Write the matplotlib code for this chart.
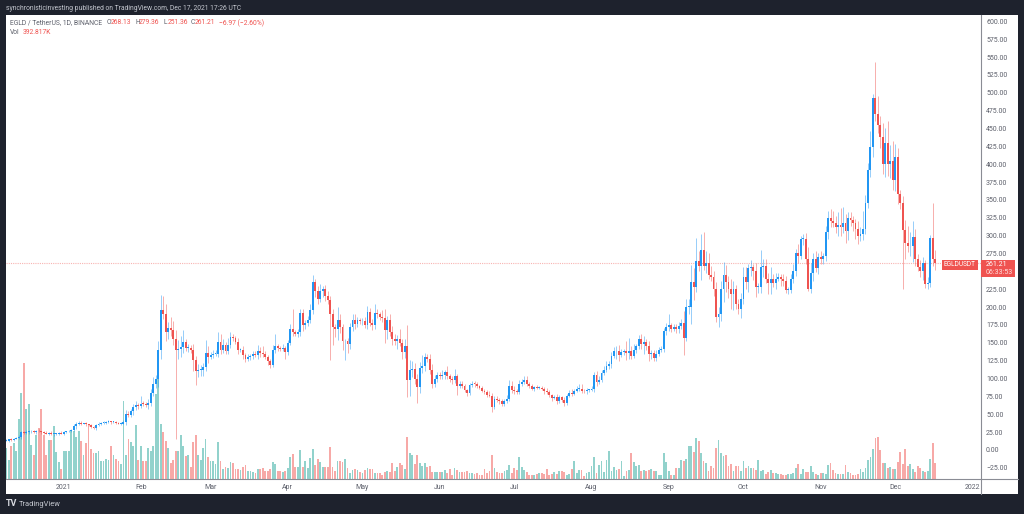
import matplotlib
matplotlib.use("Agg")
import matplotlib.pyplot as plt
from matplotlib.patches import Rectangle

plt.rcParams['font.family'] = ['Roboto', 'DejaVu Sans']

closes = [
 13,15,14,16,17,18,25,24,25,26,
 26.5,25,27,26,25,24,23,24,22,22,
 23,24,23,25,26,27,28,33,37,38,
 37,37,36,35.5,32,31,35,37,38,38,
 39,40,39,39,38,37,37,39,50,49,
 54,60,63,62,65,64,63,66,80,93,
 100,140,196,190,165,171,168,155,140,142,
 144,151,143,143,140,126,110,112,112,116,
 136,130,133,134,135,151,140,147,139,147,
 158,157,151,140,140,133,127,130,132,134,
 133,138,136,134,130,124,119,140,145,143,
 141,143,137,150,170,165,163,165,192,175,
 178,182,196,235,222,212,222,225,215,210,
 190,172,170,182,172,152,152,148,172,182,
 176,182,180,181,175,193,178,175,192,190,
 186,185,168,182,165,155,152,156,150,137,
 145,98,112,113,100,88,115,117,130,128,
 112,92,100,105,103,105,109,103,100,98,
 103,90,93,90,84,80,91,93,92,89,
 87,83,81,77,76,60,72,70,68,64,
 68,72,90,84,82,81,93,95,98,92,
 90,86,88,87,87,86,82,81,77,73,
 74,68,74,70,66,76,80,79,83,85,
 86,83,82,84,84,85,105,95,98,108,
 112,118,120,132,138,139,133,137,138,136,
 139,132,140,145,156,148,151,146,134,136,
 129,135,140,141,166,172,175,170,172,169,
 173,178,157,200,200,235,228,265,258,280,
 258,262,245,242,225,186,190,225,245,235,
 225,218,225,205,197,212,242,235,255,256,
 250,228,228,256,258,240,234,240,234,240,
 242,240,236,224,224,240,250,276,272,295,
 296,268,226,248,268,255,270,268,272,305,
 325,320,318,312,315,312,318,306,325,322,
 318,310,300,302,310,345,392,424,492,470,
 455,438,400,430,400,405,378,410,358,345,
 308,290,285,285,298,268,256,250,262,232,
 234,297,268,261.21]

upper_wicks = [
 2,1,2,1,1,3,2,1,3,2,
 1,2,1,2,1,1,2,1,2,1,
 1,1,2,1,1,1,1,4,2,2,
 3,1,2,1,1,2,1,2,1,2,
 1,2,1,1,2,1,2,3,6,4,
 4,5,5,3,10,4,3,5,6,9,
 5,12,21,19,14,8,15,12,13,12,
 16,17,5,6,4,8,6,9,7,6,
 18,9,4,6,5,14,11,8,4,10,
 7,4,3,6,3,5,3,5,3,4,
 4,9,6,9,4,3,3,7,17,4,
 3,5,2,4,6,28,3,4,6,6,
 4,6,9,10,4,8,11,4,6,7,
 6,7,5,18,8,5,4,5,6,9,
 8,4,3,4,5,8,6,5,13,6,
 3,10,12,6,8,8,7,5,14,6,
 10,30,14,12,9,6,8,16,6,5,
 7,8,5,4,4,7,3,8,3,3,
 10,4,3,3,3,2,3,3,3,3,
 2,3,2,3,6,4,4,3,3,3,
 4,5,8,6,6,3,5,5,6,5,
 3,3,2,3,2,2,2,5,3,2,
 3,4,3,2,4,3,4,5,3,4,
 6,7,3,3,2,4,4,5,6,4,
 5,6,4,5,6,6,8,4,4,15,
 18,6,8,4,5,7,8,5,6,4,
 4,5,4,4,5,6,16,3,4,5,
 6,5,16,12,11,24,20,32,14,23,
 25,16,14,12,8,10,10,12,18,14,
 8,14,12,6,6,8,14,14,6,10,
 4,12,6,24,10,10,8,16,6,8,
 6,4,6,8,4,7,10,6,12,4,
 6,8,16,14,8,10,6,8,4,8,
 10,12,14,10,18,24,22,12,8,8,
 6,6,10,10,24,12,10,22,6,51,
 25,12,20,20,30,22,28,18,12,6,
 10,14,24,20,22,12,6,10,8,4,
 8,4,48,11.23]

lower_wicks = [
 1,2,1,2,1,2,3,2,1,2,
 2,1,3,1,2,2,1,2,1,2,
 1,2,1,2,1,1,2,1,3,2,
 2,1,3,2,1,2,3,1,2,1,
 2,1,2,1,2,1,2,1,4,3,
 3,5,4,4,3,3,3,5,5,5,
 6,12,12,6,12,10,9,8,125,12,
 12,8,5,6,4,16,19,8,9,8,
 5,8,3,4,3,5,6,4,5,5,
 4,5,3,5,3,6,4,3,4,4,
 3,6,6,4,3,5,4,3,4,4,
 3,3,9,4,3,6,4,5,6,8,
 6,5,4,5,8,7,5,8,6,5,
 64,25,12,16,8,12,26,12,6,6,
 7,4,4,5,4,6,5,7,6,5,
 4,6,18,12,6,8,5,10,5,9,
 8,24,22,10,8,22,8,7,6,5,
 6,5,4,5,3,4,5,3,5,5,
 4,13,3,3,3,5,3,3,4,2,
 2,2,3,3,2,7,3,3,4,3,
 3,2,3,4,4,2,3,3,3,3,
 3,2,3,2,2,2,3,2,3,4,
 2,3,2,3,4,3,2,3,2,2,
 2,3,2,3,3,2,4,6,3,3,
 3,3,4,5,3,10,8,3,4,10,
 9,5,3,4,4,7,14,6,9,6,
 5,5,3,3,4,5,6,5,4,5,
 5,4,24,4,10,24,18,7,7,20,
 6,10,5,5,10,7,14,10,18,14,
 12,20,22,7,6,12,8,10,14,12,
 12,14,8,8,14,6,16,16,6,8,
 4,10,6,4,6,4,6,6,10,4,
 8,8,3,6,12,6,8,8,8,8,
 10,8,6,8,12,12,8,16,12,8,
 12,14,12,8,8,8,6,10,14,10,
 12,16,14,18,16,20,14,16,14,8,
 83,22,8,14,22,10,6,8,12,5,
 6,6,10,9.85]

volumes = [
 31,19,33,36,28,60,86,116,70,75,
 34,24,44,51,70,44,24,39,39,53,
 27,17,10,28,28,28,49,48,42,48,
 38,24,36,54,30,26,26,28,18,18,
 20,19,33,24,20,18,15,78,24,40,
 37,33,54,19,33,18,18,31,28,33,
 85,107,55,47,38,31,16,19,28,28,
 44,33,23,24,12,37,44,24,19,31,
 40,22,18,18,15,37,18,10,12,11,
 17,16,10,10,9,12,14,8,8,7,
 6,10,10,11,8,8,10,17,15,8,
 8,7,8,11,22,25,12,12,29,12,
 18,11,21,30,14,20,17,12,12,12,
 32,12,8,18,18,17,20,11,6,9,
 10,9,7,6,9,11,10,10,6,6,
 6,4,7,8,7,16,8,12,16,14,
 10,42,26,24,15,24,16,13,16,12,
 13,7,7,7,7,7,9,6,10,4,
 11,9,7,7,7,8,6,6,5,6,
 4,4,10,6,8,24,11,7,6,6,
 8,9,14,6,11,9,22,12,9,7,
 4,4,4,5,6,6,5,10,4,5,
 7,5,8,8,7,4,5,10,18,6,
 9,9,3,6,7,13,22,6,14,18,
 7,19,28,8,12,9,10,18,3,8,
 9,26,17,13,14,8,9,8,9,10,
 8,8,4,4,26,17,8,4,4,11,
 11,19,18,20,33,33,27,41,38,26,
 18,16,8,13,11,31,39,26,23,24,
 13,15,8,13,13,8,18,11,13,11,
 11,9,19,8,9,5,7,9,6,6,
 5,5,4,4,5,5,6,11,15,5,
 10,7,7,13,7,5,4,6,6,5,
 14,16,9,6,5,5,5,14,7,6,
 4,4,5,10,7,11,19,22,30,41,
 42,29,16,16,11,12,10,10,17,27,
 15,30,13,15,10,7,13,11,8,7,
 8,20,36,16]

month_labels = ['2021','Feb','Mar','Apr','May','Jun','Jul','Aug','Sep','Oct','Nov','Dec','2022']
month_index = [23,54,82,113,143,174,204,235,266,296,327,357,388]
price_ticks = [-25,0,25,50,75,100,125,150,175,200,225,275,300,325,350,375,400,425,450,475,500,525,550,575,600]
last_price = 261.21

W, H = 1024, 514
BG = '#1e222d'
UP, DOWN = '#2196f3', '#ef5350'
VUP, VDOWN = '#92d2cc', '#f7a9a7'
TXT = '#5d606b'

def fx(px): return px / W
def fy(py): return 1 - py / H

fig = plt.figure(figsize=(W/100, H/100), dpi=100, facecolor=BG)
fig.add_artist(Rectangle((fx(6), fy(494)), fx(1018)-fx(6), (494-15)/H,
                         transform=fig.transFigure, fc='white', ec='none'))

rect = [fx(6), fy(479), fx(980.5)-fx(6), (479-15)/H]
n = len(closes)
opens = [closes[0]] + closes[:-1]
idx = list(range(n))
highs = [max(o, c) + u for o, c, u in zip(opens, closes, upper_wicks)]
lows = [min(o, c) - l for o, c, l in zip(opens, closes, lower_wicks)]
up = [c >= o for o, c in zip(opens, closes)]

xlim = ((6-6.4)/2.49, (980.5-6.4)/2.49)

axv = fig.add_axes(rect, zorder=1)
axv.set_xlim(*xlim); axv.set_ylim(0, 464); axv.axis('off')
axv.bar(idx, volumes, width=0.72, color=[VUP if u else VDOWN for u in up], linewidth=0)

ax = fig.add_axes(rect, zorder=2)
ax.patch.set_alpha(0)
ax.set_xlim(*xlim)
ax.set_ylim((450-479)/0.7145, (450-15)/0.7145)
ax.axhline(last_price, color='#f8b4b2', lw=0.8, ls=(0, (1, 1)), zorder=1)
ax.vlines(idx, lows, highs, colors=[UP if u else DOWN for u in up], lw=0.6, alpha=0.55, zorder=2)
ax.bar(idx, [max(abs(c-o), 1.2) for o, c in zip(opens, closes)], bottom=[min(o, c) for o, c in zip(opens, closes)],
       width=0.75, color=[UP if u else DOWN for u in up], linewidth=0, zorder=3)

for s in ('top', 'left'):
    ax.spines[s].set_visible(False)
ax.spines['right'].set_color('#8a8c94'); ax.spines['right'].set_linewidth(0.8)
ax.spines['bottom'].set_color('#8a8c94'); ax.spines['bottom'].set_linewidth(0.8)
ax.yaxis.tick_right()
ax.set_yticks(price_ticks)
ax.set_yticklabels([f'{v:.2f}'.replace('-', '\u2212') for v in price_ticks])
ax.set_xticks(month_index)
ax.set_xticklabels(month_labels)
ax.tick_params(axis='y', length=0, pad=4, labelsize=5.0, labelcolor=TXT)
ax.tick_params(axis='x', length=0, pad=3.5, labelsize=5.0, labelcolor=TXT)

# axis lines continuing past the plot
fig.add_artist(plt.Line2D([fx(980.5), fx(980.5)], [fy(479), fy(494)], color='#8a8c94', lw=0.8))
fig.add_artist(plt.Line2D([fx(980.5), fx(1018)], [fy(479), fy(479)], color='#8a8c94', lw=0.8))

def t(px, py, s, **kw):
    kw.setdefault('fontsize', 4.9)
    kw.setdefault('va', 'center')
    return fig.text(fx(px), fy(py), s, **kw)

t(6, 8, 'synchronisticinvesting published on TradingView.com, Dec 17, 2021 17:26 UTC', color='#c5c8d0', fontsize=4.9)
t(10, 23, 'EGLD / TetherUS, 1D, BINANCE', color=TXT)
for px, s, c in [(107, 'O', TXT), (111, '268.13', DOWN), (135, 'H', TXT), (139, '279.36', DOWN),
                 (164, 'L', TXT), (167.5, '251.36', DOWN), (191, 'C', TXT), (195, '261.21', DOWN),
                 (219, '\u22126.97 (\u22122.60%)', DOWN)]:
    t(px, 23, s, color=c)
t(10, 32.5, 'Vol', color=TXT)
t(23, 32.5, '392.817K', color=DOWN)

fig.add_artist(Rectangle((fx(942), fy(270)), 36/W, 10/H, transform=fig.transFigure, fc=DOWN, ec='none', zorder=5))
fig.add_artist(Rectangle((fx(981), fy(277)), 34/W, 17/H, transform=fig.transFigure, fc=DOWN, ec='none', zorder=5))
t(960, 265, 'EGLDUSDT', color='white', ha='center', fontsize=4.7, zorder=6)
t(986, 265, '261.21', color='white', fontsize=5.0, zorder=6)
t(986, 272.5, '06:33:53', color='#ffe0df', fontsize=5.0, zorder=6)

t(6, 504, 'TV', color='#d8dae0', fontsize=6.5, fontweight='bold')
t(19, 504, 'TradingView', color='#c5c8d0', fontsize=5.4)

fig.savefig('out.png', dpi=100, facecolor=BG)
